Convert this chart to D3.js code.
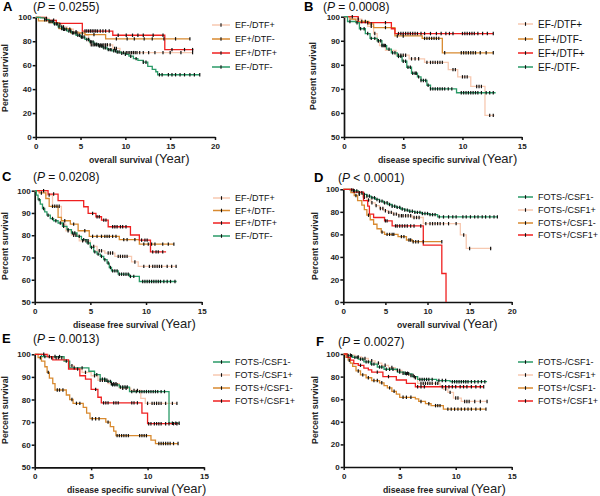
<!DOCTYPE html>
<html>
<head>
<meta charset="utf-8">
<script src="https://cdn.jsdelivr.net/npm/d3@7.9.0/dist/d3.min.js"></script>
<style>
  body { margin: 0; background: #fff; }
  text { font-family: "Liberation Sans", Arial, sans-serif; }
</style>
</head>
<body>
<svg id="chart" width="600" height="496"></svg>
<script>
// group names, in legend order
const efGroups = ["EF-/DTF+", "EF+/DTF-", "EF+/DTF+", "EF-/DTF-"];
const fotsGroups = ["FOTS-/CSF1-", "FOTS-/CSF1+", "FOTS+/CSF1-", "FOTS+/CSF1+"];

const pValues = ["0.0255", "0.0008", "0.0208", "< 0.0001", "0.0013", "0.0027"];
const xTitles = ["overall survival", "disease specific survival", "disease free survival",
                 "overall survival", "disease specific survival", "disease free survival"];

// ---- A: overall survival, EF groups  (steps = [year, percent]) ----
const stepsA = [
  [[0,100],[0.8,99],[1.5,97.5],[2.3,94],[2.9,92],[3.5,90],[4.2,88],[4.8,86.5],[5.5,85],[5.9,80],[6.1,77],[8.6,74],[9.4,70.5]],
  [[0,100],[0.3,97],[1.5,95.5],[2.6,90.5],[3.9,87],[5.5,85.5],[7.8,82]],
  [[0,100],[1.2,97.5],[2.3,95],[5.2,88.5],[8.6,85],[14.4,73]],
  [[0,100],[0.5,99.5],[1,98],[1.5,96.5],[2,94.5],[2.5,92],[3,90],[3.5,88.5],[4,87],[4.5,85],[5,83.5],[5.5,81.5],[6,79.5],[6.5,77.5],[7,76],[7.5,74.5],[8,73],[8.5,72],[9,71],[9.5,70],[10,69],[10.4,67.5],[10.9,65.5],[11.4,64],[12,62.5],[12.5,59],[13,56.5],[13.4,54.5],[13.6,52]]
];
const endA = [17.5, 17.2, 17.6, 18.3];
const censA = [
  [1.2,2.0,2.7,3.1,3.8,4.5,5.2,6.2,6.4,6.6,6.8,7.0,7.2,7.4,7.6,7.8,8.0,8.3,8.8,9.0,9.8,10.1,10.3,10.5,10.7,10.9,11.1,11.3,11.6,12.0,12.6,13.3,14.2,15.0,16.2,17.5],
  [2.9,4.6,6.5,9.0,10.2,11.0,12.1,13.0,14.3,15.6,17.2],
  [5.5,5.7,5.9,6.1,6.3,6.5,6.7,6.9,7.2,7.5,7.8,8.2,9.2,10.1,10.8,11.4,12.0,13.1,14.2,15.2,16.6,17.5],
  [1.0,1.2,1.5,1.7,1.9,2.1,2.3,2.4,2.6,2.9,3.1,3.2,3.4,3.7,3.9,4.1,4.2,4.4,4.7,4.9,5.1,5.2,5.4,5.7,5.9,6.1,6.2,6.4,6.6,6.8,7.1,7.3,7.4,7.6,7.8,8.1,8.3,8.4,8.7,8.9,9.1,9.3,9.6,10.0,10.6,11.2,12.0,12.3,13.8,14.1,14.8,15.2,15.6,16.1,16.6,17.2,17.7,18.3]
];

// ---- B: disease specific survival, EF groups ----
const stepsB = [
  [[0,100],[0.7,99],[1.5,98],[2.0,96],[2.5,93],[2.8,90],[3.0,88],[3.5,86],[4.4,84],[5.5,82.5],[6.8,81],[8.8,78],[9.6,75],[10.7,71],[11.9,59]],
  [[0,100],[0.5,99],[1.0,98],[2.1,97],[2.5,95.5],[4.3,92],[6.6,91],[8.3,85]],
  [[0,100],[1.2,97.5],[4.0,95],[4.3,93]],
  [[0,100],[0.3,98],[1.0,97.5],[1.3,95],[1.8,93],[2.2,91],[2.8,90],[3.2,88],[3.6,86.5],[4.0,85],[4.5,83.5],[4.9,81.5],[5.3,79],[5.7,76.5],[6.2,75],[6.5,73.5],[7.0,71.5],[7.3,70],[9.5,68.4]]
];
const endB = [12.7, 12.6, 12.6, 12.8];
const censB = [
  [1.2,1.8,2.3,2.6,2.9,3.2,3.4,4.6,4.8,5.0,5.2,5.7,6.0,6.3,7.0,7.3,7.5,7.7,7.9,8.1,8.3,9.2,9.4,10.0,10.2,10.4,11.2,11.4,11.6,12.3,12.6],
  [1.5,2.3,3.5,4.5,5.0,6.8,7.0,7.2,7.4,7.6,7.8,8.0,8.5,9.9,10.1,10.3,10.5,10.7,10.9,11.1,11.5,12.0,12.6],
  [0.7,2.0,3.5,4.6,4.8,5.0,5.2,5.4,5.6,5.8,6.0,6.2,6.5,6.8,7.3,7.8,8.2,8.6,8.9,9.2,10.0,10.2,10.4,10.6,10.8,11.0,11.3,11.7,12.1,12.6],
  [0.5,1.1,1.4,1.7,2.0,2.3,2.6,2.9,3.1,3.3,3.5,3.8,4.1,4.3,4.6,4.8,5.0,5.2,5.4,5.6,5.8,6.0,6.1,6.3,6.5,6.7,6.9,7.1,7.3,7.5,7.7,7.9,8.1,8.3,8.5,8.8,9.1,9.9,10.1,10.3,10.5,10.7,10.9,11.1,11.3,11.6,12.0,12.3,12.6]
];

// ---- C: disease free survival, EF groups ----
const stepsC = [
  [[0,100],[1.0,98],[1.6,93],[2.4,85],[2.8,82],[3.3,80],[4.0,77.5],[5.0,75],[5.6,73],[6.3,72],[7.2,70.5],[8.7,68],[9.3,66]],
  [[0,100],[0.4,99],[1.0,96.5],[1.3,93],[2.1,88],[2.4,86.5],[3.2,85],[3.9,82],[4.9,79.5],[7.6,78],[9.4,76]],
  [[0,100],[1.2,98.5],[2.1,95.5],[4.4,92.8],[4.8,89.8],[5.5,88.3],[6.0,86.8],[6.6,83.8],[8.6,80.1],[9.4,77.8],[10.4,72.5]],
  [[0,100],[0.15,98],[0.3,96],[0.5,94],[0.7,92],[0.9,90.5],[1.1,89],[1.4,87.5],[1.7,86.5],[2.1,85.5],[2.5,84],[2.9,82.5],[3.3,81],[3.8,79.5],[4.2,78],[4.7,76.5],[5.0,74.5],[5.3,72.5],[5.6,71.5],[5.9,70.5],[6.2,69],[6.5,67.5],[6.7,65.5],[6.9,64],[7.5,62.5],[8.5,61.5],[9.4,59.2]]
];
const endC = [12.7, 12.5, 11.8, 12.75];
const censC = [
  [0.8,1.3,1.8,2.0,2.2,2.6,3.0,3.5,3.7,4.3,4.6,4.8,5.3,5.8,6.0,6.6,6.8,7.0,7.5,7.7,7.9,8.1,8.3,9.0,9.8,10.3,10.6,10.8,11.0,11.2,11.4,11.9,12.3,12.7],
  [0.6,1.6,2.7,3.5,4.5,5.2,5.6,6.0,6.3,6.5,6.7,7.0,7.3,8.0,8.3,9.0,9.8,10.2,10.5,10.8,11.5,12.0,12.5],
  [1.7,5.2,5.6,5.8,6.2,6.4,7.0,7.2,7.4,7.7,7.9,8.2,9.6,9.9,10.1,10.6,10.9,11.1,11.5],
  [0.4,0.8,1.2,1.6,1.9,2.3,2.6,3.0,3.4,3.6,4.0,4.4,4.8,5.1,5.4,5.7,6.0,6.3,6.6,6.8,7.0,7.2,7.4,7.6,7.8,8.0,8.2,8.4,8.6,8.9,9.7,9.9,10.1,10.3,10.5,10.7,10.9,11.1,11.3,11.6,11.9,12.2,12.6]
];

// ---- D: overall survival, FOTS groups ----
const stepsD = [
  [[0,100],[0.8,99.5],[1.3,98.5],[1.8,97],[2.3,95.5],[2.8,94],[3.3,92.5],[3.8,91],[4.3,89.5],[4.8,88],[5.3,86.5],[5.8,85],[6.3,84],[6.8,82.5],[7.3,81.5],[7.8,80.5],[8.5,79.5],[9.3,78.5],[10.2,77.5],[11.2,75.5]],
  [[0,100],[0.8,99],[1.3,97.5],[1.8,95.5],[2.3,93],[2.8,90.5],[3.3,88],[3.8,85.5],[4.3,83],[4.8,81],[5.3,79.5],[5.9,78],[6.6,76.5],[8.2,75],[9.5,69.5],[13.9,59.5],[14.6,47.5]],
  [[0,100],[0.9,97],[1.3,94.5],[1.7,90],[2.2,86],[2.5,82],[2.8,77],[3.2,73],[3.6,69],[4.0,65],[4.5,62],[4.9,60],[6.5,58],[7.5,55],[8.2,53.5]],
  [[0,100],[1.2,97.5],[2.4,90],[2.9,85],[3.1,78],[3.6,75],[4.9,72],[5.8,67.5],[9.5,50.5],[11.7,25.3],[12.2,0]]
];
const endD = [18.3, 17.6, 11.7, 12.2];
const censD = [
  [1.0,1.3,1.6,1.9,2.2,2.5,2.8,3.1,3.4,3.7,4.0,4.3,4.6,4.9,5.2,5.5,5.8,6.1,6.4,6.7,7.0,7.3,7.6,7.9,8.2,8.5,8.8,9.1,9.4,9.7,10.0,10.3,10.6,10.9,11.4,11.9,12.5,13.0,13.4,14.2,14.6,15.1,15.6,16.0,16.5,16.9,17.4,17.9,18.3],
  [1.2,1.9,2.5,3.0,3.4,3.9,4.4,4.7,5.0,5.4,5.7,6.0,6.3,6.6,6.9,7.1,7.4,7.7,8.0,8.4,8.7,9.0,9.8,10.3,10.6,10.9,11.2,11.5,11.9,12.5,13.4,14.3,15.0,17.5],
  [1.5,3.0,4.6,5.2,5.5,5.8,6.0,6.9,7.2,7.8,8.0,8.3,8.6,8.9,9.5,11.7],
  [5.0,5.2,6.2,6.4,6.7,7.0,7.3,7.6,8.0,8.4,9.2]
];

// ---- E: disease specific survival, FOTS groups ----
const stepsE = [
  [[0,100],[0.6,99],[2.6,97],[3.1,94],[4.8,92.5],[5.3,91],[5.8,89],[6.3,88],[6.8,86.5],[7.5,85.5],[8.4,83.5],[11.9,69.5]],
  [[0,100],[1.2,98.5],[2.6,97],[3.0,95],[3.5,93.5],[4.2,92],[5.0,90.5],[5.6,88.5],[6.5,87],[7.5,85],[8.5,84],[9.4,80.5],[9.8,78.3]],
  [[0,100],[0.3,98.5],[0.6,97],[0.9,94.5],[1.1,92],[1.3,89.5],[1.6,87],[1.8,84.2],[2.8,82],[3.1,80],[3.4,78.3],[4.3,76.5],[4.6,74],[4.9,71.5],[6.3,70],[6.7,68],[7.0,66],[7.2,64],[10.3,62],[10.7,60.5]],
  [[0,100],[1.1,99],[1.6,97.5],[3.0,93.5],[4.0,90.5],[4.5,89],[5.0,84.5],[5.6,81],[5.9,78.5],[9.5,74],[10.0,69.3]]
];
const endE = [12.8, 12.6, 12.7, 12.7];
const censE = [
  [0.9,1.3,1.8,2.2,3.5,4.2,5.5,6.0,6.2,6.5,6.7,6.9,7.1,7.3,7.6,7.8,8.0,8.2,8.6,9.0,9.3,9.5,9.7,9.9,10.1,10.3,10.5,10.7,10.9,11.2,11.5,12.2,12.5,12.8],
  [0.8,1.5,1.9,2.1,2.4,2.8,3.3,3.8,4.5,5.3,5.8,6.0,6.2,6.4,6.8,7.0,7.2,7.8,8.1,8.8,9.1,10.0,10.4,10.6,10.8,11.0,11.2,11.6,12.2,12.6],
  [0.5,1.2,2.0,2.2,2.5,3.3,3.7,4.0,5.1,5.4,5.7,6.5,7.3,7.5,7.7,7.9,8.1,8.3,9.3,9.5,9.7,9.9,11.0,11.2,11.4,11.6,11.8,12.0,12.3,12.7],
  [5.4,6.1,6.3,6.5,7.0,7.2,7.4,8.6,8.8,9.1,10.1,10.3,10.6,10.8,11.0,11.2,11.6,11.9,12.3,12.6]
];

// ---- F: disease free survival, FOTS groups ----
const stepsF = [
  [[0,100],[0.3,98.5],[0.8,97],[1.3,95.5],[1.8,93],[2.4,91],[3,88.5],[3.6,86.5],[4.8,84],[5.4,82.5],[6.1,80],[6.6,77.5],[8.3,76.5],[9.5,75.5]],
  [[0,100],[0.4,99],[1,97.5],[1.6,96],[2.2,94],[2.8,92],[3.4,90],[4,88],[4.6,85.5],[5.2,83],[5.8,81],[6.3,79],[6.6,74],[8.6,71.5],[8.9,69],[9.3,66],[9.8,61],[10.5,58]],
  [[0,100],[0.2,97],[0.4,94.5],[0.6,92],[0.8,89],[1.1,85],[1.5,81.5],[2,79],[2.5,76.5],[3.2,74.5],[3.6,72],[3.9,70],[4.3,67],[4.7,64.5],[5,61.7],[6.4,60.3],[6.7,58],[7.3,56],[7.8,54.3],[8.9,51.2]],
  [[0,100],[0.3,97],[0.6,94.5],[0.9,91.5],[1.3,90],[1.8,87.5],[2.2,86],[2.5,84],[3.5,80],[4.7,77],[5.6,74],[6.4,71]]
];
const endF = [12.8, 12.8, 12.7, 12.5];
const censF = [
  [0.4,0.7,1.0,1.2,1.5,1.7,2.0,2.2,2.5,2.7,3.2,3.4,3.8,4.1,4.4,5.0,5.6,5.8,6.3,6.8,7.0,7.2,7.4,7.6,7.9,8.5,8.8,9.1,9.7,9.9,10.1,10.3,10.5,10.7,10.9,11.1,11.4,11.7,12.0,12.3,12.6],
  [0.6,1.3,1.9,2.5,3.1,3.7,4.3,4.8,5.0,5.3,5.5,5.7,6.0,6.2,6.4,6.9,7.1,7.3,7.5,7.7,7.9,8.2,8.4,9.1,9.5,10.0,10.2,10.8,11.0,11.2,11.7,12.2,12.8],
  [0.5,1.3,1.7,2.2,2.7,3.0,3.4,4.1,4.5,5.3,5.6,6.0,6.9,7.6,8.2,8.4,8.6,9.3,9.6,9.9,10.2,10.5,10.8,11.1,11.4,11.8,12.2,12.7],
  [1.5,3.0,4.0,6.6,6.9,7.2,8.8,9.1,9.4,9.7,10.0,10.4,10.7,11.0,11.4,11.8,12.2,12.5]
];

// colours per group
const peach = "#f7c9b1", orange = "#d88a30", red = "#ef2020", green = "#2a9a67";
const efColors = [peach, orange, red, green];
const fotsColors = [green, peach, orange, red];

const panels = [
  { letter: "A", steps: stepsA, ends: endA, cens: censA, groups: efGroups, colors: efColors, p: pValues[0], xt: xTitles[0],
    xMax: 20, yMin: 0, yStep: 20, x0: 35.7, x1: 215, yTop: 17.3, yBot: 137,
    lx: 212, lw: 18, rows: [25, 39, 53, 67], lfs: 9, ttl: [3, 33, 10.5], xl: [89, 163], yl: [8, 78] },
  { letter: "B", steps: stepsB, ends: endB, cens: censB, groups: efGroups, colors: efColors, p: pValues[1], xt: xTitles[1],
    xMax: 15, yMin: 50, yStep: 10, x0: 344, x1: 521.7, yTop: 16.7, yBot: 137,
    lx: 518, lw: 15, rows: [24, 39, 53, 67], lfs: 10, ttl: [304, 323, 10.5], xl: [378, 163], yl: [316, 76] },
  { letter: "C", steps: stepsC, ends: endC, cens: censC, groups: efGroups, colors: efColors, p: pValues[2], xt: xTitles[2],
    xMax: 15, yMin: 50, yStep: 10, x0: 34.7, x1: 201.7, yTop: 190.7, yBot: 302,
    lx: 213, lw: 17, rows: [198, 210.5, 223, 236], lfs: 9, ttl: [2, 33, 181], xl: [73, 328], yl: [8, 246] },
  { letter: "D", steps: stepsD, ends: endD, cens: censD, groups: fotsGroups, colors: fotsColors, p: pValues[3], xt: xTitles[3],
    xMax: 20, yMin: 0, yStep: 20, x0: 343.3, x1: 511.7, yTop: 189.3, yBot: 302,
    lx: 518, lw: 15, rows: [197, 210, 223, 235], lfs: 9, ttl: [314, 338, 182], xl: [397, 328], yl: [318, 246] },
  { letter: "E", steps: stepsE, ends: endE, cens: censE, groups: fotsGroups, colors: fotsColors, p: pValues[4], xt: xTitles[4],
    xMax: 15, yMin: 50, yStep: 10, x0: 34.7, x1: 204, yTop: 354.3, yBot: 467.3,
    lx: 213, lw: 17, rows: [362, 375, 388, 401], lfs: 9, ttl: [2, 33, 343], xl: [67, 493], yl: [8, 410] },
  { letter: "F", steps: stepsF, ends: endF, cens: censF, groups: fotsGroups, colors: fotsColors, p: pValues[5], xt: xTitles[5],
    xMax: 15, yMin: 0, yStep: 20, x0: 343.7, x1: 511.7, yTop: 354, yBot: 467,
    lx: 518, lw: 15, rows: [362, 375, 388, 401], lfs: 9, ttl: [316, 338, 345.5], xl: [383, 493], yl: [318, 410] }
];

const svg = d3.select("#chart");

// value of a step curve at time t
function survAt(steps, t) {
  let s = steps[0][1];
  for (const [tt, ss] of steps) if (tt <= t) s = ss;
  return s;
}

panels.forEach(p => {
  const x = d3.scaleLinear().domain([0, p.xMax]).range([p.x0, p.x1]);
  const y = d3.scaleLinear().domain([p.yMin, 100]).range([p.yBot, p.yTop]);
  const g = svg.append("g");

  // axes
  const yAxis = g.append("g")
    .attr("transform", `translate(${p.x0},0)`)
    .call(d3.axisLeft(y).tickValues(d3.range(p.yMin, 101, p.yStep)).tickSize(3).tickPadding(1).tickSizeOuter(0));
  const xAxis = g.append("g")
    .attr("transform", `translate(0,${p.yBot})`)
    .call(d3.axisBottom(x).tickValues(d3.range(0, p.xMax + 1, 5)).tickSize(3).tickSizeOuter(0));
  [yAxis, xAxis].forEach(a => {
    a.select(".domain").attr("stroke", "#111").attr("stroke-width", 1.7);
    a.selectAll(".tick line").attr("stroke", "#111").attr("stroke-width", 1.5);
    a.selectAll(".tick text").attr("fill", "#222").attr("font-size", 8).attr("font-weight", "bold")
      .attr("font-family", "'Liberation Sans', Arial, sans-serif");
  });

  // curves: pale group first so the others sit on top
  const order = p.colors.map((c, i) => i).sort((a, b) => (p.colors[a] === peach ? -1 : 0) - (p.colors[b] === peach ? -1 : 0));
  const line = d3.line().x(d => x(d[0])).y(d => y(d[1])).curve(d3.curveStepAfter);
  order.forEach(i => {
    const st = p.steps[i];
    const pts = st.concat([[p.ends[i], st[st.length - 1][1]]]);
    g.append("path").attr("d", line(pts)).attr("fill", "none")
      .attr("stroke", p.colors[i]).attr("stroke-width", 1.3);
  });
  // censor ticks
  order.forEach(i => {
    g.append("g").selectAll("line").data(p.cens[i]).join("line")
      .attr("x1", d => x(d)).attr("x2", d => x(d))
      .attr("y1", d => y(survAt(p.steps[i], d)) - 1.7)
      .attr("y2", d => y(survAt(p.steps[i], d)) + 1.7)
      .attr("stroke", "#111").attr("stroke-width", 1.2);
  });

  // legend
  const lg = g.append("g");
  p.groups.forEach((name, i) => {
    const ry = p.rows[i];
    lg.append("line").attr("x1", p.lx).attr("x2", p.lx + p.lw).attr("y1", ry).attr("y2", ry)
      .attr("stroke", p.colors[i]).attr("stroke-width", 1.5);
    lg.append("line").attr("x1", p.lx + p.lw / 2).attr("x2", p.lx + p.lw / 2).attr("y1", ry - 1.8).attr("y2", ry + 1.8)
      .attr("stroke", "#111").attr("stroke-width", 1.1);
    lg.append("text").attr("x", p.lx + p.lw + 5).attr("y", ry).attr("dy", "0.35em")
      .attr("font-size", p.lfs).attr("fill", "#111").text(name);
  });

  // panel letter and P value
  g.append("text").attr("x", p.ttl[0]).attr("y", p.ttl[2]).attr("font-size", 13).attr("font-weight", "bold")
    .attr("fill", "#000").text(p.letter);
  const pt = g.append("text").attr("x", p.ttl[1]).attr("y", p.ttl[2]).attr("font-size", 12).attr("fill", "#111");
  pt.append("tspan").text("(");
  pt.append("tspan").attr("font-style", "italic").text("P");
  pt.append("tspan").text(p.p.startsWith("<") ? " " + p.p + ")" : " = " + p.p + ")");

  // axis titles
  const xt = g.append("text").attr("x", p.xl[0]).attr("y", p.xl[1]).attr("fill", "#222");
  xt.append("tspan").attr("font-size", 8.7).attr("font-weight", "bold").text(p.xt + " ");
  xt.append("tspan").attr("font-size", 13).text("(Year)");
  g.append("text").attr("transform", `translate(${p.yl[0]},${p.yl[1]}) rotate(-90)`)
    .attr("text-anchor", "middle").attr("font-size", 8.8).attr("font-weight", "bold").attr("fill", "#222")
    .text("Percent survival");
});
</script>
</body>
</html>
